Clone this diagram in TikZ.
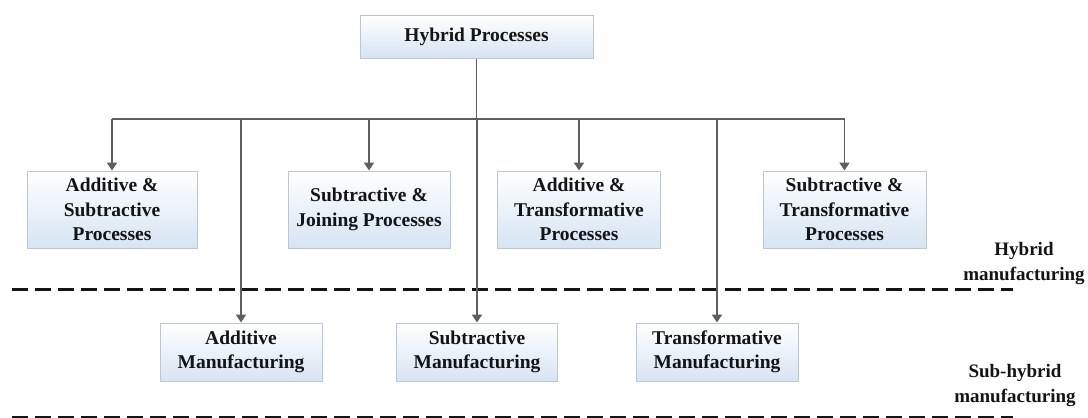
\documentclass[tikz,border=0pt]{standalone}
\usepackage{fontspec}
\setmainfont{Liberation Serif}
\usetikzlibrary{arrows.meta}
\definecolor{boxedge}{RGB}{190,198,208}
\definecolor{boxblue}{RGB}{214,228,243}
\definecolor{wire}{RGB}{95,95,95}
\definecolor{ink}{RGB}{20,20,20}
\tikzset{
  procbox/.style={draw=boxedge, line width=1pt, top color=white, bottom color=boxblue,
    text=ink, align=center, inner sep=0pt,
    font=\fontsize{19.5}{24.5}\selectfont\bfseries},
  wireline/.style={draw=wire, line width=1.8pt},
  feed/.style={wireline, -{Triangle[width=10pt,length=8pt]}},
  levelline/.style={draw=ink, line width=3pt, dash pattern=on 16pt off 7pt},
  levellabel/.style={text=ink, align=center, font=\fontsize{19}{25}\selectfont\bfseries}
}
\begin{document}
\begin{tikzpicture}[x=1pt, y=-1pt]
\useasboundingbox (0,0) rectangle (1088,418);
\fill[white] (0,0) rectangle (1088,418);

% level separators
\coordinate (upL) at (12,289);
\coordinate (upR) at (1013,289);
\coordinate (loL) at (12,417);
\coordinate (loR) at (1013,417);
\draw[levelline] (upL) -- (upR);
\draw[levelline] (loL) -- (loR);

% root
\node[procbox, minimum width=233pt, minimum height=43pt] (top) at (476.5,36.5) {Hybrid Processes};

% hybrid processes
\node[procbox, minimum width=170pt, minimum height=77pt] (b1) at (112,209.5) {Additive \&\\Subtractive\\Processes};
\node[procbox, minimum width=162pt, minimum height=77pt] (b2) at (369,209.5) {Subtractive \&\\Joining Processes};
\node[procbox, minimum width=163pt, minimum height=77pt] (b3) at (579,209.5) {Additive \&\\Transformative\\Processes};
\node[procbox, minimum width=163pt, minimum height=77pt] (b4) at (844.5,209.5) {Subtractive \&\\Transformative\\Processes};

% sub-hybrid processes
\node[procbox, minimum width=162pt, minimum height=58pt] (a1) at (241,352) {Additive\\Manufacturing};
\node[procbox, minimum width=161pt, minimum height=58pt] (a2) at (477,352) {Subtractive\\Manufacturing};
\node[procbox, minimum width=162pt, minimum height=58pt] (a3) at (717,352) {Transformative\\Manufacturing};

% distribution bus
\coordinate (bus) at (476.5,119);
\draw[wireline] (top.south) -- (bus);
\draw[wireline] (bus -| b1) -- (bus -| b4);
\draw[feed] (bus -| b1) -- (b1.north);
\draw[feed] (bus -| b2) -- (b2.north);
\draw[feed] (bus -| b3) -- (b3.north);
\draw[feed] (bus -| b4) -- (b4.north);
\draw[feed] (bus -| a1) -- (a1.north);
\draw[feed] (bus -| a2) -- (a2.north);
\draw[feed] (bus -| a3) -- (a3.north);

% level labels
\node[levellabel] (lvl1) at (1024,264) {Hybrid\\manufacturing};
\node[levellabel] (lvl2) at (1015,386) {Sub-hybrid\\manufacturing};
\end{tikzpicture}
\end{document}
